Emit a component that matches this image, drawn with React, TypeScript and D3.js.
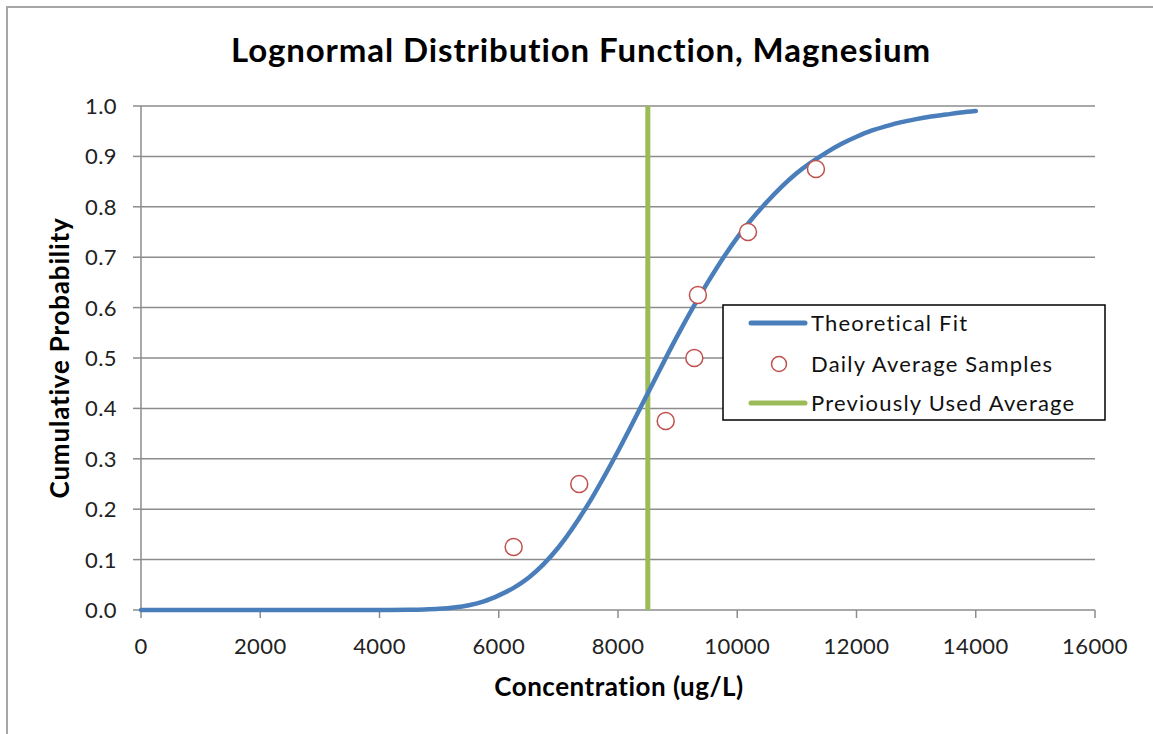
import React from "react";
import * as d3 from "d3";

const title = "Lognormal Distribution Function, Magnesium";
const xTitle = "Concentration (ug/L)";
const yTitle = "Cumulative Probability";

const xTicks = [0, 2000, 4000, 6000, 8000, 10000, 12000, 14000, 16000];
const yTicks = [0, 0.1, 0.2, 0.3, 0.4, 0.5, 0.6, 0.7, 0.8, 0.9, 1.0];

// Theoretical fit
const fitX = [0, 1000, 2000, 3000, 4000, 4500, 4750, 5000, 5250, 5500, 5750, 6000, 6250, 6500, 7000, 7500, 8000, 8500, 9000, 9500, 10000, 10500, 11000, 11500, 11750, 12000, 12250, 12500, 12750, 13000, 13250, 13500, 13750, 14000];
const fitP = [0, 0, 0, 0, 0, 0.0005, 0.0012, 0.0025, 0.005, 0.0095, 0.017, 0.029, 0.044, 0.064, 0.124, 0.21, 0.315, 0.43, 0.545, 0.649, 0.739, 0.81, 0.867, 0.908, 0.925, 0.939, 0.951, 0.96, 0.968, 0.974, 0.979, 0.983, 0.987, 0.99];

// Daily average samples
const sampleX = [6250, 7350, 8800, 9280, 9340, 10180, 11320];
const sampleP = [0.125, 0.25, 0.375, 0.5, 0.625, 0.75, 0.875];

// Previously used average
const prevAvg = 8500;

const legendLabels = ["Theoretical Fit", "Daily Average Samples", "Previously Used Average"];

const BLUE = "#4a7ebb";
const RED = "#c0504d";
const GREEN = "#9bbb59";
const GRID = "#8c8c8c";
const FONT = "Lato, 'Open Sans', sans-serif";

export default function App() {
  const W = 1153, H = 734;
  const x = d3.scaleLinear().domain([0, 16000]).range([141, 1095]);
  const y = d3.scaleLinear().domain([0, 1]).range([610, 106]);

  const fit = fitX.map((v, i) => [v, fitP[i]] as [number, number]);
  const line = d3
    .line<[number, number]>()
    .x((d) => x(d[0]))
    .y((d) => y(d[1]))
    .curve(d3.curveMonotoneX);

  const lgX = 723, lgY = 305, lgW = 382, lgH = 115;
  const rowY = [323, 364, 403];

  return (
    <div style={{ position: "absolute", left: 0, top: 0 }}>
      <svg width={W} height={H} style={{ display: "block", background: "#fff" }}>
        <rect x={7} y={7} width={W + 10} height={H + 10} fill="#fff" stroke="#a6a6a6" strokeWidth={2} />
        <text x={581} y={62} textAnchor="middle" fontFamily={FONT} fontWeight={700} fontSize={33} letterSpacing={0.9} fill="#000">
          {title}
        </text>

        {/* gridlines */}
        {yTicks.filter((t) => t > 0).map((t) => (
          <line key={"g" + t} x1={x(0)} x2={x(16000)} y1={y(t)} y2={y(t)} stroke={GRID} strokeWidth={1.5} />
        ))}
        {/* y axis */}
        <line x1={x(0)} x2={x(0)} y1={y(1)} y2={y(0)} stroke={GRID} strokeWidth={1.5} />
        {yTicks.map((t) => (
          <g key={"y" + t}>
            <line x1={x(0) - 8} x2={x(0)} y1={y(t)} y2={y(t)} stroke={GRID} strokeWidth={1.5} />
            <text x={117} y={y(t)} dy="0.36em" textAnchor="end" fontFamily={FONT} fontSize={22} letterSpacing={0.4} fill="#222">
              {d3.format(".1f")(t)}
            </text>
          </g>
        ))}
        {/* x axis */}
        <line x1={x(0)} x2={x(16000)} y1={y(0)} y2={y(0)} stroke={GRID} strokeWidth={1.5} />
        {xTicks.map((t) => (
          <g key={"x" + t}>
            <line x1={x(t)} x2={x(t)} y1={y(0)} y2={y(0) + 8} stroke={GRID} strokeWidth={1.5} />
            <text x={x(t)} y={654} textAnchor="middle" fontFamily={FONT} fontSize={22} letterSpacing={0.4} fill="#222">
              {t}
            </text>
          </g>
        ))}

        <text x={619} y={696} textAnchor="middle" fontFamily={FONT} fontWeight={700} fontSize={26} letterSpacing={0.5} fill="#000">
          {xTitle}
        </text>
        <text
          transform={`translate(69, ${(y(0) + y(1)) / 2}) rotate(-90)`}
          textAnchor="middle"
          fontFamily={FONT}
          fontWeight={700}
          fontSize={26}
          letterSpacing={0.8}
          fill="#000"
        >
          {yTitle}
        </text>

        {/* previously used average */}
        <line x1={x(prevAvg)} x2={x(prevAvg)} y1={y(1)} y2={y(0)} stroke={GREEN} strokeWidth={5} />
        {/* theoretical fit */}
        <path d={line(fit) || ""} fill="none" stroke={BLUE} strokeWidth={4.5} strokeLinecap="round" strokeLinejoin="round" />
        {/* samples */}
        {sampleX.map((v, i) => (
          <circle key={"s" + i} cx={x(v)} cy={y(sampleP[i])} r={8.5} fill="#fff" stroke={RED} strokeWidth={1.5} />
        ))}

        {/* legend */}
        <rect x={lgX} y={lgY} width={lgW} height={lgH} fill="#fff" stroke="#000" strokeWidth={1.5} />
        <line x1={751} x2={805} y1={rowY[0]} y2={rowY[0]} stroke={BLUE} strokeWidth={5} strokeLinecap="round" />
        <circle cx={779} cy={rowY[1]} r={7.5} fill="#fff" stroke={RED} strokeWidth={1.5} />
        <line x1={751} x2={805} y1={rowY[2]} y2={rowY[2]} stroke={GREEN} strokeWidth={5} strokeLinecap="round" />
        {legendLabels.map((l, i) => (
          <text key={l} x={811} y={rowY[i]} dy="0.36em" fontFamily={FONT} fontSize={22} letterSpacing={1.2} fill="#111">
            {l}
          </text>
        ))}
      </svg>
    </div>
  );
}
